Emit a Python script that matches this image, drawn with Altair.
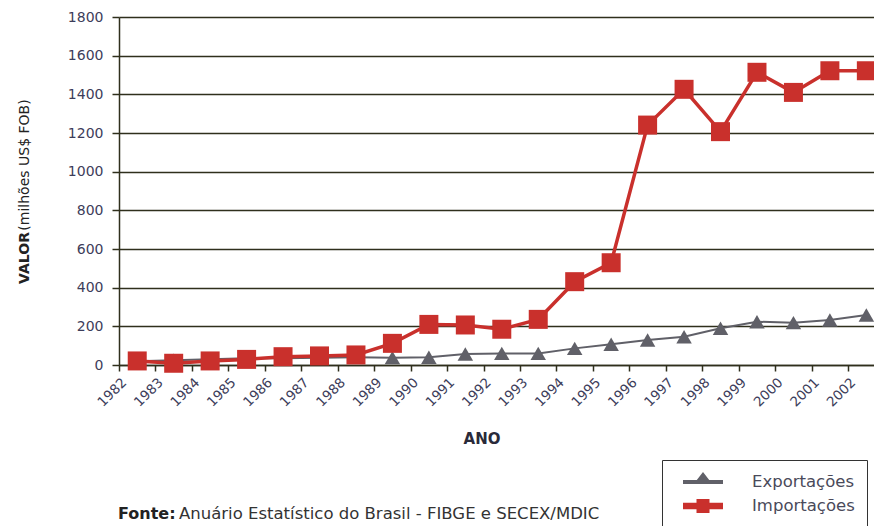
import altair as alt
import pandas as pd

# Valores anuais (milhões US$ FOB)
anos = list(range(1982, 2003))
exportacoes = [20, 25, 30, 35, 35, 38, 40, 38, 40, 57, 60, 60, 86, 107, 129, 146, 190, 224, 219, 233, 259]
importacoes = [21, 9, 21, 29, 43, 47, 52, 112, 210, 207, 185, 236, 431, 529, 1241, 1426, 1207, 1514, 1410, 1522, 1522]

series = ["Exportações", "Importações"]
cores = ["#606068", "#c9302c"]

# Símbolos da legenda: traço com marcador ao centro
legenda_paths = [
    "M-0.1,-0.2L1.28,-0.2L1.9,-1L2.52,-0.2L3.9,-0.2L3.9,0.2L-0.1,0.2Z",
    "M-0.1,-0.33L1.25,-0.33L1.25,-0.7L2.55,-0.7L2.55,-0.33L3.9,-0.33L3.9,0.33"
    "L2.55,0.33L2.55,0.7L1.25,0.7L1.25,0.33L-0.1,0.33Z",
]

df = pd.DataFrame(
    {
        "ano": anos * 2,
        "valor": exportacoes + importacoes,
        "serie": [series[0]] * len(anos) + [series[1]] * len(anos),
    }
)

FONT = "DejaVu Sans"
GRID = "#2f2f1c"
LABEL = "#3d3d5a"

x_enc = alt.X(
    "ano:Q",
    scale=alt.Scale(domain=[anos[0] - 0.5, 2002.21], nice=False, zero=False),
    axis=alt.Axis(
        values=[a - 0.5 for a in anos],
        labelExpr="'' + (datum.value + 0.5)",
        labelAngle=-45,
        labelAlign="right",
        labelBaseline="middle",
        labelOffset=5,
        labelPadding=9,
        labelFont=FONT,
        labelFontSize=13.5,
        labelColor=LABEL,
        tickSize=6,
        tickColor=GRID,
        tickWidth=1.5,
        domainColor=GRID,
        domainWidth=1.5,
        grid=False,
        title=None,
        labelOverlap=False,
    ),
)
y_enc = alt.Y(
    "valor:Q",
    scale=alt.Scale(domain=[0, 1800], nice=False),
    axis=alt.Axis(
        values=list(range(0, 1801, 200)),
        format="d",
        labelFont=FONT,
        labelFontSize=14,
        labelColor=LABEL,
        labelPadding=9,
        tickSize=7,
        tickColor=GRID,
        tickWidth=1.5,
        domainColor=GRID,
        domainWidth=1.5,
        grid=True,
        gridColor=GRID,
        gridWidth=1.5,
        gridOpacity=1,
        title=None,
    ),
)

base = alt.Chart(df).encode(x=x_enc, y=y_enc)

exp_line = base.transform_filter(alt.datum.serie == series[0]).mark_line(
    color=cores[0], strokeWidth=2
)
exp_pts = base.transform_filter(alt.datum.serie == series[0]).mark_point(
    shape="triangle-up", filled=True, size=240, color=cores[0], opacity=1
)
imp_line = base.transform_filter(alt.datum.serie == series[1]).mark_line(
    color=cores[1], strokeWidth=3.5
)
imp_pts = base.transform_filter(alt.datum.serie == series[1]).mark_point(
    shape="square", filled=True, size=361, color=cores[1], opacity=1
)

leg = alt.Legend(
    title=None,
    orient="none",
    legendX=543,
    legendY=443,
    strokeColor="#333333",
    padding=12,
    rowPadding=5,
    symbolSize=400,
    symbolStrokeWidth=0,
    symbolOpacity=1,
    labelFont=FONT,
    labelFontSize=16.5,
    labelColor="#4a4a5a",
    labelOffset=58,
)
legenda = (
    alt.Chart(df)
    .transform_filter("false")
    .mark_point(filled=True, size=400, opacity=1, strokeWidth=0)
    .encode(
        color=alt.Color("serie:N", scale=alt.Scale(domain=series, range=cores), legend=leg),
        shape=alt.Shape("serie:N", scale=alt.Scale(domain=series, range=legenda_paths), legend=leg),
    )
)

txt = pd.DataFrame({"k": [0]})


def texto(s, x, y, **kw):
    return alt.Chart(txt).mark_text(text=s, font=FONT, **kw).encode(
        x=alt.value(x), y=alt.value(y)
    )


titulo_y1 = texto("VALOR", -94, 241, angle=270, fontSize=14, fontWeight="bold",
                  color="#222222", align="center", baseline="middle")
titulo_y2 = texto("(milhões US$ FOB)", -94, 148, angle=270, fontSize=14,
                  color="#222222", align="center", baseline="middle")
titulo_x = texto("ANO", 363, 422, fontSize=15, fontWeight="bold",
                 color="#2a2a3a", align="center", baseline="middle")
fonte1 = texto("Fonte:", -1, 502, fontSize=16, fontWeight="bold",
               color="#222222", align="left", baseline="alphabetic")
fonte2 = texto("Anuário Estatístico do Brasil - FIBGE e SECEX/MDIC", 60, 502,
               fontSize=16.5, color="#333333", align="left", baseline="alphabetic")

chart = (
    alt.layer(exp_line, exp_pts, imp_line, imp_pts, legenda,
              titulo_y1, titulo_y2, titulo_x, fonte1, fonte2)
    .resolve_scale(color="independent", shape="independent")
    .properties(
        width=755,
        height=348,
        autosize="none",
        padding={"left": 119, "top": 17, "right": 0, "bottom": 161},
        background="white",
    )
    .configure_view(stroke=None)
)

chart.save("out.html", embed_options={"renderer": "svg", "actions": False})
